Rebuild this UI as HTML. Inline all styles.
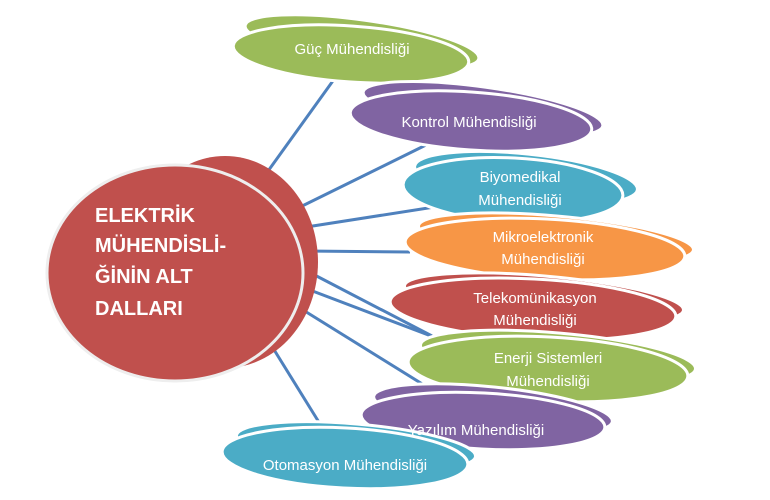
<!DOCTYPE html>
<html><head><meta charset="utf-8"><style>
html,body{margin:0;padding:0;background:#fff;}
svg{display:block;}
text{font-family:"Liberation Sans",sans-serif;fill:#fff;}
</style></head><body>
<svg width="770" height="500" viewBox="0 0 770 500">
<g stroke="#4F81BD" stroke-width="3">
<line x1="335" y1="78" x2="258" y2="185"/>
<line x1="430" y1="143" x2="290" y2="212"/>
<line x1="460" y1="203" x2="300" y2="228"/>
<line x1="410" y1="252" x2="305" y2="251"/>
<line x1="432" y1="336" x2="305" y2="270"/>
<line x1="468" y1="350" x2="302" y2="287"/>
<line x1="440" y1="395" x2="295" y2="305"/>
<line x1="325" y1="432" x2="268" y2="340"/>
</g>
<ellipse cx="225" cy="262" rx="93" ry="106" fill="#C0504D"/>
<ellipse cx="175" cy="273" rx="128" ry="108" fill="#C0504D" stroke="#eee" stroke-width="3"/>
<g font-weight="bold" font-size="20">
<text x="95" y="222">ELEKTRİK</text>
<text x="95" y="252">MÜHENDİSLİ-</text>
<text x="95" y="283">ĞİNİN ALT</text>
<text x="95" y="315">DALLARI</text>
</g>
<g stroke="#fff" stroke-width="3">
<ellipse cx="362" cy="42" rx="118" ry="22" fill="#9BBB59" transform="rotate(8 362 42)"/>
<ellipse cx="351" cy="54" rx="118" ry="28" fill="#9BBB59" transform="rotate(4 351 54)"/>
<ellipse cx="483" cy="109" rx="121" ry="22" fill="#8064A2" transform="rotate(8 483 109)"/>
<ellipse cx="471" cy="121" rx="121" ry="29" fill="#8064A2" transform="rotate(4 471 121)"/>
<ellipse cx="526" cy="178" rx="112" ry="24" fill="#4BACC6" transform="rotate(6 526 178)"/>
<ellipse cx="513" cy="190" rx="110" ry="32" fill="#4BACC6" transform="rotate(3 513 190)"/>
<ellipse cx="556" cy="238" rx="138" ry="22" fill="#F79646" transform="rotate(5 556 238)"/>
<ellipse cx="545" cy="249" rx="140" ry="30" fill="#F79646" transform="rotate(3 545 249)"/>
<ellipse cx="544" cy="298" rx="140" ry="22" fill="#C0504D" transform="rotate(5 544 298)"/>
<ellipse cx="533" cy="309" rx="143" ry="30" fill="#C0504D" transform="rotate(3 533 309)"/>
<ellipse cx="558" cy="357" rx="138" ry="24" fill="#9BBB59" transform="rotate(5 558 357)"/>
<ellipse cx="548" cy="369" rx="140" ry="32" fill="#9BBB59" transform="rotate(3 548 369)"/>
<ellipse cx="493" cy="409" rx="120" ry="22" fill="#8064A2" transform="rotate(6 493 409)"/>
<ellipse cx="483" cy="421" rx="122" ry="28" fill="#8064A2" transform="rotate(3 483 421)"/>
<ellipse cx="356" cy="446" rx="120" ry="22" fill="#4BACC6" transform="rotate(5 356 446)"/>
<ellipse cx="345" cy="458" rx="123" ry="30" fill="#4BACC6" transform="rotate(3 345 458)"/>
</g>
<g font-size="15" text-anchor="middle">
<text x="352" y="54">Güç Mühendisliği</text>
<text x="469" y="127">Kontrol Mühendisliği</text>
<text x="520" y="182">Biyomedikal</text>
<text x="520" y="205">Mühendisliği</text>
<text x="543" y="242">Mikroelektronik</text>
<text x="543" y="264">Mühendisliği</text>
<text x="535" y="303">Telekomünikasyon</text>
<text x="535" y="325">Mühendisliği</text>
<text x="548" y="363">Enerji Sistemleri</text>
<text x="548" y="386">Mühendisliği</text>
<text x="476" y="435">Yazılım Mühendisliği</text>
<text x="345" y="470">Otomasyon Mühendisliği</text>
</g>
</svg>
</body></html>
